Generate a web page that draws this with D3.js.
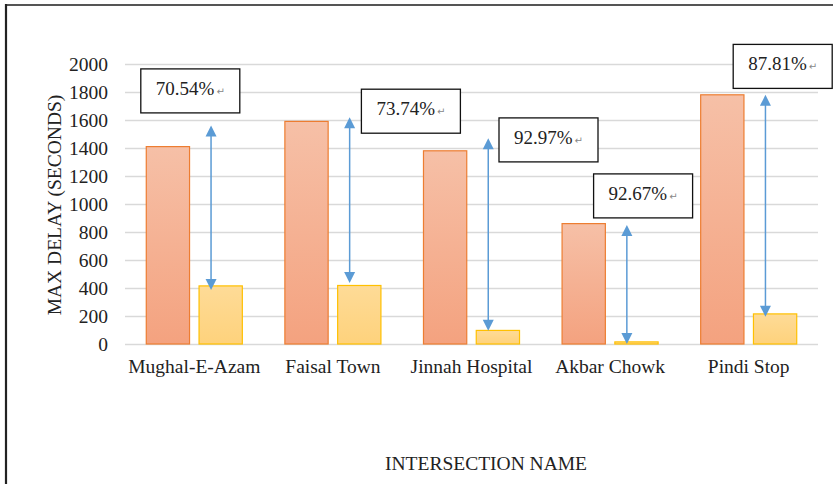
<!DOCTYPE html>
<html>
<head>
<meta charset="utf-8">
<script src="https://cdn.jsdelivr.net/npm/d3@7"></script>
<style>
  body { margin: 0; background: #fff; }
  svg { display: block; font-family: "Liberation Serif", "Times New Roman", serif; }
  .grid line { stroke: #d9d9d9; stroke-width: 1.3; }
  .grid .domain, .xaxis .domain { display: none; }
  .tick text { fill: #222; font-size: 19.5px; font-family: "Liberation Serif", "Times New Roman", serif; }
  .arrow { stroke: #5b9bd5; stroke-width: 1.5; }
  .head { fill: #5b9bd5; }
  .note rect { fill: #fff; stroke: #111; stroke-width: 1.3; }
  .note text { font-size: 19px; fill: #222; }
  .note .ret { font-family: "DejaVu Sans", sans-serif; font-size: 10px; fill: #888; }
</style>
</head>
<body>
<svg id="chart" width="833" height="484"></svg>
<script>
  // data
  var categories = ['Mughal-E-Azam', 'Faisal Town', 'Jinnah Hospital', 'Akbar Chowk', 'Pindi Stop'];
  var beforeDelay = [1410, 1590, 1380, 860, 1780];
  var afterDelay = [415, 418, 97, 15, 215];
  var reductionLabels = ['70.54%', '73.74%', '92.97%', '92.67%', '87.81%'];
  var arrowTop = [1560, 1620, 1470, 850, 1780];
  var arrowBottom = [385, 435, 95, 0, 195];
  var yTicks = [0, 200, 400, 600, 800, 1000, 1200, 1400, 1600, 1800, 2000];

  // where each callout box sits: top edge in axis units, x shift from band centre in px
  var noteTop = [1965, 1820, 1615, 1215, 2140];
  var noteShift = [-4, 78, 77, 33, 34];

;(function() {
  var svg = d3.select('#chart');
  var left = 125, right = 818, plotTop = 64, plotBottom = 344;

  var x = d3.scaleBand().domain(categories).range([left, right])
    .paddingInner(0.307).paddingOuter(0.1535);
  var sub = d3.scaleBand().domain(['before', 'after']).range([0, x.bandwidth()]).paddingInner(0.18);
  var y = d3.scaleLinear().domain([0, 2000]).range([plotBottom, plotTop]);

  var defs = svg.append('defs');
  function gradient(id, c1, c2) {
    var g = defs.append('linearGradient').attr('id', id)
      .attr('x1', 0).attr('y1', 0).attr('x2', 0).attr('y2', 1);
    g.append('stop').attr('offset', '0%').attr('stop-color', c1);
    g.append('stop').attr('offset', '100%').attr('stop-color', c2);
  }
  gradient('gOrange', '#f6c0a7', '#f4a27f');
  gradient('gYellow', '#fedb97', '#fed27c');

  // frame
  svg.append('line').attr('x1', 6).attr('y1', 5).attr('x2', 833).attr('y2', 5)
    .attr('stroke', '#555').attr('stroke-width', 2);
  svg.append('line').attr('x1', 6).attr('y1', 4).attr('x2', 6).attr('y2', 484)
    .attr('stroke', '#222').attr('stroke-width', 2.2);

  svg.append('g').attr('class', 'grid')
    .attr('transform', 'translate(' + left + ',0)')
    .call(d3.axisLeft(y).tickValues(yTicks).tickFormat(d3.format('d'))
      .tickSize(-(right - left)).tickPadding(17));

  svg.append('g').attr('class', 'xaxis')
    .attr('transform', 'translate(0,' + plotBottom + ')')
    .call(d3.axisBottom(x).tickSize(0).tickPadding(15));

  var groups = svg.append('g').selectAll('g')
    .data(categories)
    .join('g')
    .attr('transform', function(d) { return 'translate(' + x(d) + ',0)'; });

  groups.append('rect')
    .attr('x', sub('before'))
    .attr('width', sub.bandwidth())
    .attr('y', function(d, i) { return y(beforeDelay[i]); })
    .attr('height', function(d, i) { return y(0) - y(beforeDelay[i]); })
    .attr('fill', 'url(#gOrange)')
    .attr('stroke', '#ed7d31').attr('stroke-width', 1.2);

  groups.append('rect')
    .attr('x', sub('after'))
    .attr('width', sub.bandwidth())
    .attr('y', function(d, i) { return y(afterDelay[i]); })
    .attr('height', function(d, i) { return y(0) - y(afterDelay[i]); })
    .attr('fill', 'url(#gYellow)')
    .attr('stroke', '#ffc000').attr('stroke-width', 1.2);

  // double headed arrows
  var ax = sub('after') + 12, hw = 5.5, hh = 11;
  groups.append('line').attr('class', 'arrow')
    .attr('x1', ax).attr('x2', ax)
    .attr('y1', function(d, i) { return y(arrowTop[i]) + hh - 1; })
    .attr('y2', function(d, i) { return y(arrowBottom[i]) - hh + 1; });
  groups.append('path').attr('class', 'head')
    .attr('d', function(d, i) {
      var t = y(arrowTop[i]);
      return 'M' + ax + ',' + t + 'L' + (ax + hw) + ',' + (t + hh) + 'L' + (ax - hw) + ',' + (t + hh) + 'Z';
    });
  groups.append('path').attr('class', 'head')
    .attr('d', function(d, i) {
      var b = y(arrowBottom[i]);
      return 'M' + ax + ',' + b + 'L' + (ax + hw) + ',' + (b - hh) + 'L' + (ax - hw) + ',' + (b - hh) + 'Z';
    });

  // callout boxes
  var boxW = 99, boxH = 44;
  var notes = svg.append('g').selectAll('g')
    .data(categories)
    .join('g').attr('class', 'note')
    .attr('transform', function(d, i) {
      var cx = x(d) + x.bandwidth() / 2 + noteShift[i];
      return 'translate(' + (cx - boxW / 2) + ',' + y(noteTop[i]) + ')';
    });
  notes.append('rect').attr('width', boxW).attr('height', boxH);
  var t = notes.append('text').attr('x', 15).attr('y', 26);
  t.append('tspan').text(function(d, i) { return reductionLabels[i]; });
  t.append('tspan').attr('class', 'ret').attr('dx', 2).text('\u21b5');

  svg.append('text')
    .attr('transform', 'translate(61,205) rotate(-90)')
    .attr('text-anchor', 'middle')
    .attr('font-size', '19.5px').attr('fill', '#222')
    .text('MAX DELAY (SECONDS)');

  svg.append('text')
    .attr('x', 486).attr('y', 470)
    .attr('text-anchor', 'middle')
    .attr('font-size', '19.5px').attr('fill', '#222')
    .text('INTERSECTION NAME');
})();
</script>
</body>
</html>
